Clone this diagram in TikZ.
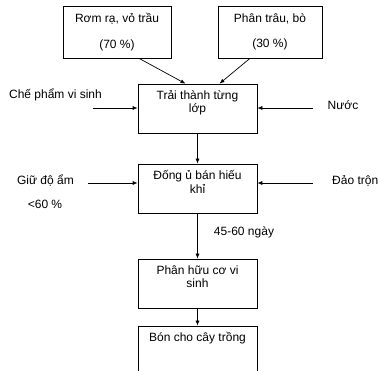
\documentclass[tikz,border=0pt]{standalone}
\usepackage{fontspec}
\setmainfont{Liberation Sans}
\usetikzlibrary{arrows.meta,positioning,calc}

\begin{document}
\begin{tikzpicture}[
  x=1pt, y=-1pt,
  font=\fontsize{12}{13.5}\selectfont,
  box/.style={draw, line width=0.7pt, inner sep=2pt, align=center},
  src/.style={box, minimum height=52pt},
  proc/.style={box, minimum width=119pt, minimum height=49pt},
  lbl/.style={inner sep=1pt, align=center},
  ar/.style={-{Latex[length=5pt,width=4pt]}, line width=0.7pt}
]
\useasboundingbox (0,0) rectangle (378,371);
\node[src, minimum width=108pt] (rom) at (117,32) {Rơm rạ, vỏ trầu\\[12pt](70 \%)};
\node[src, minimum width=104pt] (phan) at (270,32) {Phân trâu, bò\\[12pt](30 \%)};
\node[proc] (trai) at (197.5,108.5) {Trải thành từng\\lớp\\\mbox{}};
\node[proc] (dong) at (197.5,188.5) {Đống ủ bán hiếu\\khỉ\\\mbox{}};
\node[proc] (huuco) at (197.5,283.5) {Phân hữu cơ vi\\sinh\\\mbox{}};
\node[proc] (bon) at (197.5,350.5) {Bón cho cây trồng\\\mbox{}\\\mbox{}};
\node[lbl] (che) at (55.5,95) {Chế phẩm vi sinh};
\node[lbl] (nuoc) at (343,105) {Nước};
\node[lbl] (giu) at (45.5,181) {Giữ độ ẩm};
\node[lbl] (am) at (45,204) {<60 \%};
\node[lbl, anchor=west] (dao) at (331,181) {Đảo trộn};
\node[lbl] (ngay) at (244,232) {45-60 ngày};
\coordinate (cheEnd) at (93,108);
\coordinate (nuocEnd) at (313,108);
\coordinate (giuEnd) at (88,183);
\coordinate (daoEnd) at (313,183);
\draw[ar] ([xshift=22pt]rom.south) -- ([xshift=-12pt]trai.north);
\draw[ar] ([xshift=-20pt]phan.south) -- ([xshift=22pt]trai.north);
\draw[ar] (cheEnd) -- (cheEnd -| trai.west);
\draw[ar] (nuocEnd) -- (nuocEnd -| trai.east);
\draw[ar] (trai) -- (dong);
\draw[ar] (giuEnd) -- (giuEnd -| dong.west);
\draw[ar] (daoEnd) -- (daoEnd -| dong.east);
\draw[ar] (dong) -- (huuco);
\draw[ar] (huuco) -- (bon);
\end{tikzpicture}
\end{document}
